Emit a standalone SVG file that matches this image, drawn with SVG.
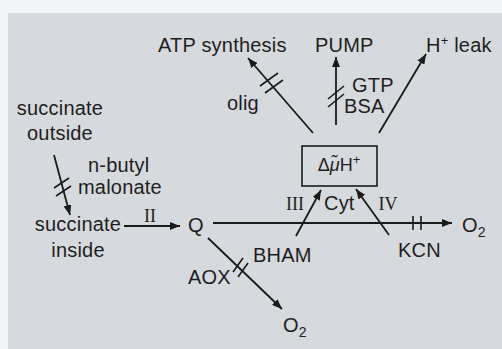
<svg xmlns="http://www.w3.org/2000/svg" width="502" height="349" viewBox="0 0 502 349">
<defs>
<marker id="ah" viewBox="0 0 10 8" refX="10" refY="4" markerWidth="10" markerHeight="8" markerUnits="userSpaceOnUse" orient="auto">
<path d="M0,0 L10,4 L0,8 Z" fill="#1a1a1a"/>
</marker>
</defs>
<style>
text{font-family:"Liberation Sans",Arial,sans-serif;font-size:20px;fill:#1e1e1e;letter-spacing:0.2px}
.rom{font-family:"Liberation Serif","Times New Roman",serif;font-size:18px;letter-spacing:0}
.ln{stroke:#1a1a1a;stroke-width:1.8;fill:none}
.ar{marker-end:url(#ah)}
.tk{stroke:#1a1a1a;stroke-width:1.6;fill:none}
</style>
<rect x="0" y="0" width="502" height="349" fill="#f3f4f6"/>
<rect x="8" y="13" width="494" height="336" fill="#d6d9dd"/>

<g id="connectors">
<line class="ln ar" x1="54" y1="155" x2="70" y2="215"/>
<line class="tk" x1="54" y1="188" x2="69" y2="178"/>
<line class="tk" x1="56" y1="196" x2="71" y2="186"/>
<line class="ln ar" x1="124" y1="226" x2="180" y2="226"/>
<line class="ln ar" x1="213" y1="223" x2="452" y2="223"/>
<line class="tk" x1="413" y1="216" x2="413" y2="230"/>
<line class="tk" x1="421" y1="216" x2="421" y2="230"/>
<line class="ln ar" x1="208" y1="238" x2="282" y2="309"/>
<line class="tk" x1="233" y1="272" x2="243" y2="258"/>
<line class="tk" x1="238" y1="277" x2="248" y2="263"/>
<line class="ln ar" x1="296" y1="236" x2="321" y2="190"/>
<line class="ln ar" x1="389" y1="235" x2="356" y2="189"/>
<line class="ln ar" x1="313" y1="133" x2="248" y2="58"/>
<line class="tk" x1="260" y1="86" x2="278" y2="73"/>
<line class="tk" x1="265" y1="93" x2="283" y2="80"/>
<line class="ln ar" x1="336" y1="125" x2="336" y2="57"/>
<line class="tk" x1="328" y1="99" x2="344" y2="86"/>
<line class="tk" x1="328" y1="107" x2="344" y2="94"/>
<line class="ln ar" x1="379" y1="133" x2="426" y2="54"/>
</g>

<g id="succinate-outside">
<text x="60" y="115" text-anchor="middle">succinate</text>
<text x="60" y="140" text-anchor="middle">outside</text>
</g>
<g id="n-butyl-malonate">
<text x="88" y="172">n-butyl</text>
<text x="78" y="194">malonate</text>
</g>
<g id="succinate-inside">
<text x="78" y="231" text-anchor="middle">succinate</text>
<text x="78" y="257" text-anchor="middle">inside</text>
</g>
<g id="label-II"><text class="rom" x="150" y="222" text-anchor="middle">II</text></g>
<g id="Q"><text x="196" y="232" text-anchor="middle">Q</text></g>
<g id="ATP-synthesis"><text x="158" y="52">ATP synthesis</text></g>
<g id="olig"><text x="227" y="110">olig</text></g>
<g id="PUMP"><text x="315" y="52">PUMP</text></g>
<g id="GTP-BSA">
<text x="352" y="92">GTP</text>
<text x="344" y="113">BSA</text>
</g>
<g id="H-leak"><text x="426" y="52">H<tspan font-size="13" dy="-7">+</tspan><tspan dy="7"> leak</tspan></text></g>
<g id="delta-mu-H">
<rect x="302" y="146" width="75" height="40" fill="none" stroke="#1a1a1a" stroke-width="1.6"/>
<text x="339" y="171" text-anchor="middle" style="font-size:18px;letter-spacing:0">Δ<tspan font-style="italic">μ̃</tspan>H<tspan font-size="13" dy="-7">+</tspan></text>
</g>
<g id="label-III"><text class="rom" x="295" y="210" text-anchor="middle">III</text></g>
<g id="Cyt"><text x="324" y="210">Cyt</text></g>
<g id="label-IV"><text class="rom" x="388" y="210" text-anchor="middle">IV</text></g>
<g id="BHAM"><text x="253" y="262">BHAM</text></g>
<g id="KCN"><text x="398" y="257">KCN</text></g>
<g id="O2-cyt"><text x="462" y="232">O<tspan font-size="14" dy="5">2</tspan></text></g>
<g id="AOX"><text x="188" y="284">AOX</text></g>
<g id="O2-aox"><text x="283" y="332">O<tspan font-size="14" dy="5">2</tspan></text></g>
</svg>
